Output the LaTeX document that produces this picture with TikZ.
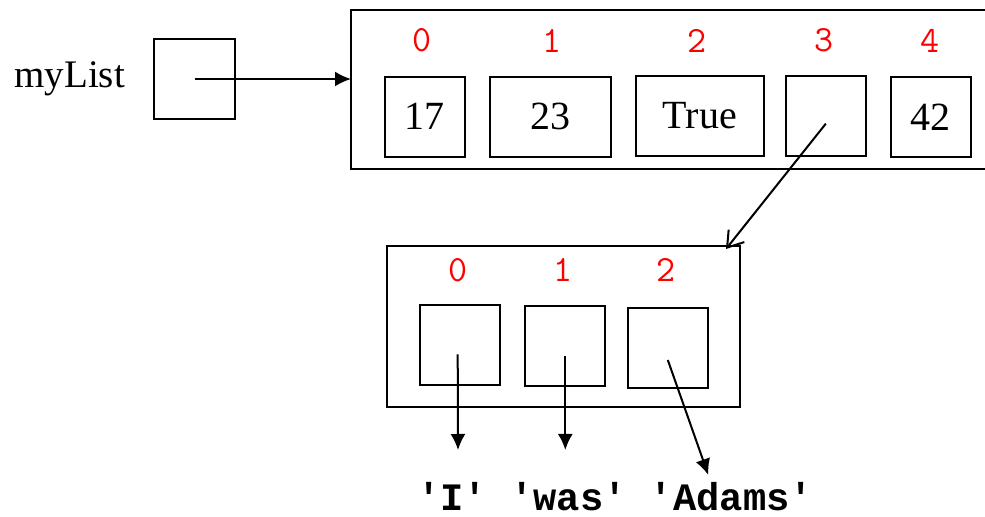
\documentclass[tikz,border=0pt]{standalone}
\usepackage{fontspec}
\setmainfont{Liberation Serif}
\newfontfamily\strfont{Liberation Mono}
\usetikzlibrary{arrows.meta}

\begin{document}
\begin{tikzpicture}[x=0.5pt, y=-0.5pt,
    cell/.style={draw, line width=1pt, minimum width=40pt, minimum height=40pt,
      inner sep=0pt, font=\fontsize{20}{24}\selectfont},
    idx/.style={text=red, inner sep=0pt, font=\ttfamily\fontsize{18.5}{22}\selectfont},
    str/.style={anchor=base, inner sep=0pt, font=\strfont\bfseries\fontsize{19.4}{22}\selectfont},
    frame/.style={line width=1pt},
    ptr/.style={line width=1pt, -{Latex[length=8pt, width=7.5pt]}}]
  \useasboundingbox (0,0) rectangle (985,517);

  % Variable and its reference cell
  \node[anchor=base west, inner sep=0pt, font=\fontsize{19.5}{23}\selectfont] (name) at (14,88) {myList};
  \node[cell, minimum width=40.5pt] (ptr) at (194.5,79) {};

  % Outer list (runs off to the right)
  \draw[frame] (985,10) -- (351,10) -- (351,169) -- (985,169);
  \coordinate (head) at (351,79);

  \node[cell] (c0) at (424.5,116.7) {17};
  \node[cell, minimum width=60.5pt] (c1) at (550,116.7) {23};
  \node[cell, minimum width=64.2pt] (c2) at (699.7,115.7) {True};
  \node[cell] (c3) at (825.8,115.7) {};
  \node[cell] (c4) at (930.8,117.5) {42};

  \foreach \i/\x in {0/422, 1/552, 2/697, 3/824, 4/930.5}
    \node[idx] (i\i) at (\x,40.7) {\i};

  % Nested list
  \node[draw, frame, inner sep=0pt, minimum width=176.5pt, minimum height=80.5pt] (inner) at (563.5,326.5) {};
  \node[cell] (s0) at (459.7,345.3) {};
  \node[cell] (s1) at (565.3,346.5) {};
  \node[cell] (s2) at (667.8,348) {};

  \foreach \i/\x in {0/457.7, 1/562.7, 2/665.7}
    \node[idx] (j\i) at (\x,270) {\i};

  % String values
  \node[str] (words) at (615,511) {'I' 'was' 'Adams'};
  \coordinate (tip0) at (458,450);
  \coordinate (tip1) at (565.3,450);
  \coordinate (tip2) at (708.3,475);

  % References
  \draw[ptr] (ptr.center) -- (head);
  \draw[line width=1pt, -{Straight Barb[length=7.5pt, width=10pt]}]
    ([yshift=-4pt]c3.center) -- ([xshift=-7.5pt, yshift=-2pt]inner.north east);
  \draw[ptr] ([xshift=-1pt, yshift=-4.5pt]s0.center) -- (tip0);
  \draw[ptr] ([yshift=-4.75pt]s1.center) -- (tip1);
  \draw[ptr] ([yshift=-6pt]s2.center) -- (tip2);
\end{tikzpicture}
\end{document}
